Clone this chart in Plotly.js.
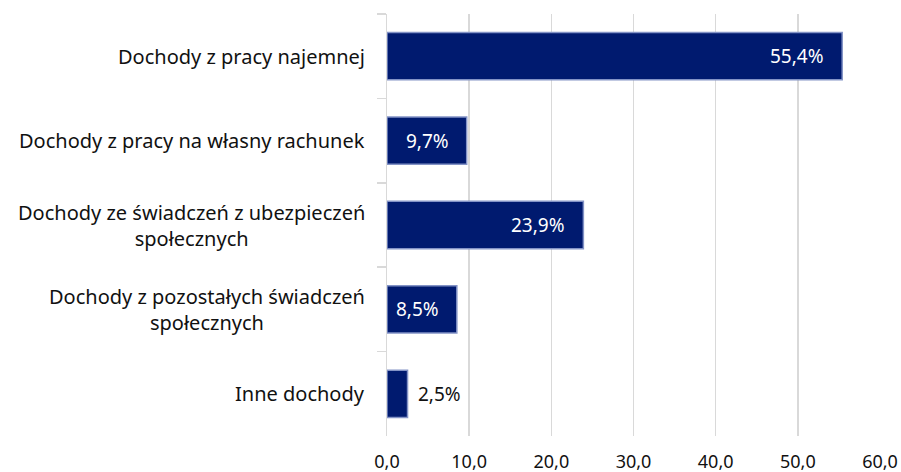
<!DOCTYPE html>
<html>
<head>
<meta charset="utf-8">
<script src="https://cdn.plot.ly/plotly-3.0.1.min.js"></script>
<style>html,body{margin:0;padding:0;background:#fff}#chart{width:901px;height:472px}</style>
</head>
<body>
<div id="chart"></div>
<script>
const categories = [
  "Dochody z pracy najemnej",
  "Dochody z pracy na własny rachunek",
  "Dochody ze świadczeń z ubezpieczeń<br>społecznych",
  "Dochody z pozostałych świadczeń<br>społecznych",
  "Inne dochody"
];
const values = [55.4, 9.7, 23.9, 8.5, 2.5];
const valueLabels = ["55,4%", "9,7%", "23,9%", "8,5%", "2,5%"];
const labelInside = [true, true, true, true, false];
const xTickVals = [0, 10, 20, 30, 40, 50, 60];
const xTickText = ["0,0", "10,0", "20,0", "30,0", "40,0", "50,0", "60,0"];

const FONT = "Noto Sans, Open Sans, sans-serif";

const trace = {
  type: "bar",
  orientation: "h",
  x: values,
  y: categories,
  marker: { color: "#001a6f", line: { color: "#8393c6", width: 1.5 } },
  hoverinfo: "none"
};

const annotations = [];
categories.forEach((c, i) => {
  annotations.push({
    xref: "paper", yref: "y", x: 0, y: c,
    text: c, showarrow: false, xanchor: "right", yanchor: "middle",
    align: "center", xshift: -20,
    font: { family: FONT, size: 20, color: "#111111" }
  });
  annotations.push({
    xref: "x", yref: "y", x: values[i], y: c,
    text: valueLabels[i], showarrow: false,
    xanchor: labelInside[i] ? "right" : "left", yanchor: "middle",
    xshift: labelInside[i] ? -16 : 8,
    font: { family: FONT, size: 19, color: labelInside[i] ? "#ffffff" : "#111111" }
  });
});

const layout = {
  width: 901, height: 472,
  margin: { l: 387, r: 21, t: 14, b: 36 },
  paper_bgcolor: "#ffffff", plot_bgcolor: "#ffffff",
  showlegend: false,
  bargap: 0.44,
  font: { family: FONT, size: 18, color: "#111111" },
  xaxis: {
    range: [0, 60], tickvals: xTickVals, ticktext: xTickText,
    showgrid: true, gridcolor: "#d9d9d9", gridwidth: 1.5,
    zeroline: false, showline: false, ticks: "",
    ticklabelstandoff: 13,
    tickfont: { family: FONT, size: 18, color: "#111111" },
    fixedrange: true
  },
  yaxis: {
    type: "category", categoryorder: "array", categoryarray: categories,
    autorange: "reversed",
    showticklabels: false, showgrid: false, zeroline: false,
    showline: true, linecolor: "#d9d9d9", linewidth: 1.5,
    ticks: "outside", tickson: "boundaries", ticklen: 9, tickcolor: "#d9d9d9", tickwidth: 1.5,
    fixedrange: true
  },
  annotations: annotations
};

Plotly.newPlot("chart", [trace], layout, { displayModeBar: false, staticPlot: true });
</script>
</body>
</html>
